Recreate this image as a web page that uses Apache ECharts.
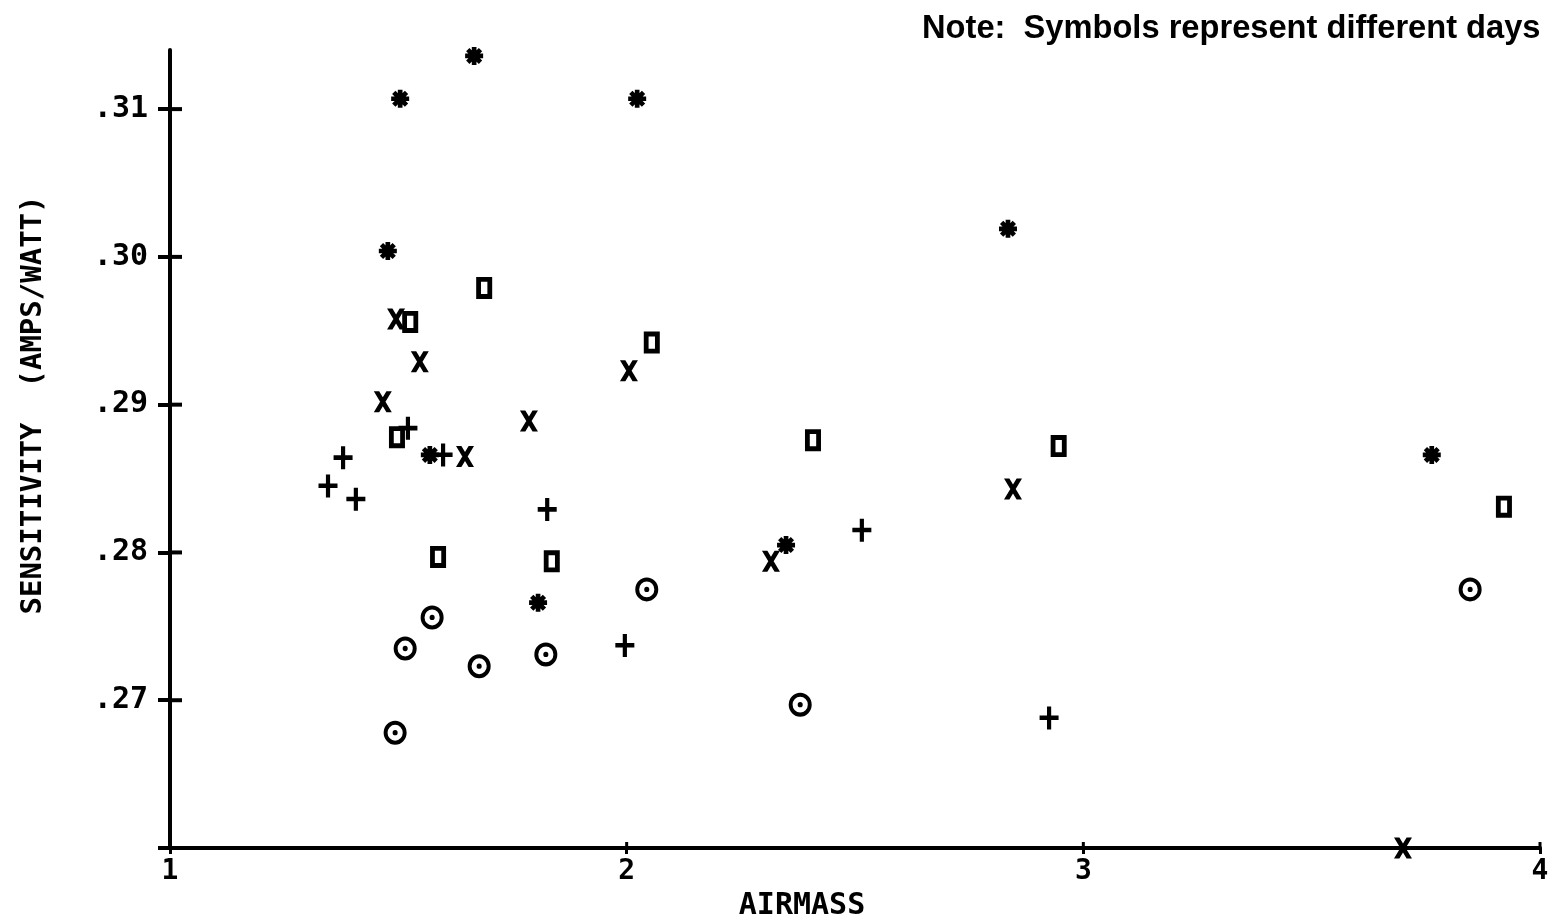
<!DOCTYPE html>
<html>
<head>
<meta charset="utf-8">
<script src="https://cdn.jsdelivr.net/npm/echarts@6/dist/echarts.min.js"></script>
<style>
html,body{margin:0;padding:0;background:#fff;}
#chart{width:1555px;height:916px;}
</style>
</head>
<body>
<div id="chart"></div>
<script>
// ---- data ----
const xTicks = [1, 2, 3, 4];
const yTicks = [0.27, 0.28, 0.29, 0.30, 0.31];
const yTickLabels = ['.27', '.28', '.29', '.30', '.31'];

const starX   = [1.504, 1.666, 2.023, 1.477, 2.835, 1.569, 1.806, 2.349, 3.763];
const starY   = [0.3107, 0.3136, 0.3107, 0.3004, 0.3019, 0.2866, 0.2766, 0.2805, 0.2866];

const boxX    = [1.688, 1.526, 2.055, 1.497, 1.587, 1.836, 2.408, 2.946, 3.921];
const boxY    = [0.2979, 0.2956, 0.2942, 0.2878, 0.2797, 0.2794, 0.2876, 0.2872, 0.2831];

const crossX  = [1.495, 1.547, 1.466, 1.786, 1.646, 2.005, 2.316, 2.846, 3.700];
const crossY  = [0.2958, 0.2929, 0.2902, 0.2889, 0.2865, 0.2923, 0.2794, 0.2843, 0.2600];

const plusX   = [1.379, 1.346, 1.407, 1.521, 1.598, 1.826, 1.996, 2.515, 2.925];
const plusY   = [0.2864, 0.2845, 0.2836, 0.2884, 0.2866, 0.2829, 0.2737, 0.2815, 0.2688];

const circX   = [1.574, 1.515, 1.677, 1.823, 2.044, 1.493, 2.380, 3.847];
const circY   = [0.2756, 0.2735, 0.2723, 0.2731, 0.2775, 0.2678, 0.2697, 0.2775];

// ---- symbol shapes ----
function starPath() {
  let d = '';
  for (let k = 0; k < 4; k++) {
    const a = k * Math.PI / 4, c = Math.cos(a), s = Math.sin(a);
    const pts = [[-50, -13], [50, -13], [50, 13], [-50, 13]].map(p =>
      [(50 + p[0] * c - p[1] * s).toFixed(2), (50 + p[0] * s + p[1] * c).toFixed(2)]);
    d += 'M' + pts.map(p => p.join(' ')).join(' L') + ' Z ';
  }
  d += 'M28 50 A22 22 0 1 1 72 50 A22 22 0 1 1 28 50 Z';
  return 'path://' + d;
}
const SYM = {
  star: starPath(),
  box: 'path://M0 0 H100 V100 H0 Z M30 22 V78 H70 V22 Z',
  cross: 'path://M0 0 L30 0 L100 100 L70 100 Z M70 0 L100 0 L30 100 L0 100 Z',
  plus: 'path://M39 0 H61 V39 H100 V59 H61 V100 H39 V59 H0 V39 H39 Z',
  circ: 'path://M0 50 A50 50 0 1 1 100 50 A50 50 0 1 1 0 50 Z M17 50 A33 33 0 1 0 83 50 A33 33 0 1 0 17 50 Z M39 50 A11 11 0 1 1 61 50 A11 11 0 1 1 39 50 Z'
};

function pairs(xs, ys) { return xs.map((x, i) => [x, ys[i]]); }
function mk(name, xs, ys, sym, size) {
  return {
    name: name, type: 'scatter', data: pairs(xs, ys),
    symbol: sym, symbolSize: size, clip: false,
    itemStyle: { color: '#000', opacity: 1 },
    emphasis: { disabled: true }, z: 5
  };
}

const axisFont = '"DejaVu Sans Mono", "Liberation Mono", monospace';
const Y_MIN = 0.26, Y_MAX = 0.314, X_MIN = 1, X_MAX = 4;

const chart = echarts.init(document.getElementById('chart'), null, { renderer: 'canvas' });
chart.setOption({
  animation: false,
  backgroundColor: '#fff',
  grid: { left: 170, right: 15, top: 50, bottom: 68, outerBoundsMode: 'none', containLabel: false },
  xAxis: {
    type: 'value', min: X_MIN, max: X_MAX, interval: 1,
    name: 'AIRMASS', nameLocation: 'middle', nameGap: 40,
    nameTextStyle: { fontFamily: axisFont, fontWeight: 'bold', fontSize: 30, color: '#000', padding: [0, 106, 0, 0] },
    axisLine: { show: true, onZero: false, lineStyle: { color: '#000', width: 4 } },
    axisTick: { show: true, length: 6, lineStyle: { color: '#000', width: 3 }, customValues: xTicks },
    axisLabel: { show: true, margin: 10, fontFamily: axisFont, fontWeight: 'bold', fontSize: 28, color: '#000', customValues: xTicks },
    splitLine: { show: false }
  },
  yAxis: {
    type: 'value', min: Y_MIN, max: Y_MAX, interval: 0.01,
    name: 'SENSITIVITY  (AMPS/WATT)', nameLocation: 'middle', nameGap: 122, nameRotate: 90,
    nameTextStyle: { fontFamily: axisFont, fontWeight: 'bold', fontSize: 29, color: '#000', padding: [0, 0, 0, 88] },
    axisLine: { show: true, onZero: false, lineStyle: { color: '#000', width: 4 } },
    axisTick: { show: true, length: 12, lineStyle: { color: '#000', width: 4 }, customValues: [Y_MIN].concat(yTicks) },
    axisLabel: {
      show: true, margin: 22, fontFamily: axisFont, fontWeight: 'bold', fontSize: 30, color: '#000',
      customValues: yTicks,
      formatter: function (v) {
        for (let i = 0; i < yTicks.length; i++) if (Math.abs(v - yTicks[i]) < 1e-6) return yTickLabels[i];
        return '';
      }
    },
    splitLine: { show: false }
  },
  series: [
    mk('Day 1 (*)', starX, starY, SYM.star, [18, 18]),
    mk('Day 2 (box)', boxX, boxY, SYM.box, [16, 22]),
    mk('Day 3 (x)', crossX, crossY, SYM.cross, [18, 21]),
    mk('Day 4 (+)', plusX, plusY, SYM.plus, [19, 23]),
    mk('Day 5 (circle)', circX, circY, SYM.circ, [23, 24])
  ]
});

// title note + inner halves of the crossing tick marks (placed through the chart's own scales)
const gfx = [{
  id: 'note', type: 'text', left: 922, top: 12, scaleX: 0.96, z: 10,
  style: {
    text: 'Note:  Symbols represent different days',
    font: 'bold 34px "Liberation Sans", Arial, sans-serif', fill: '#000'
  }
}];
yTicks.forEach(function (v, i) {
  const p = chart.convertToPixel({ xAxisIndex: 0, yAxisIndex: 0 }, [X_MIN, v]);
  gfx.push({ id: 'yt' + i, type: 'rect', z: 100, silent: true,
    shape: { x: p[0], y: p[1] - 2, width: 12, height: 4 }, style: { fill: '#000' } });
});
xTicks.forEach(function (v, i) {
  const p = chart.convertToPixel({ xAxisIndex: 0, yAxisIndex: 0 }, [v, Y_MIN]);
  gfx.push({ id: 'xt' + i, type: 'rect', z: 100, silent: true,
    shape: { x: p[0] - 1.5, y: p[1] - 6, width: 3, height: 6 }, style: { fill: '#000' } });
});
chart.setOption({ graphic: { elements: gfx } });
</script>
</body>
</html>
